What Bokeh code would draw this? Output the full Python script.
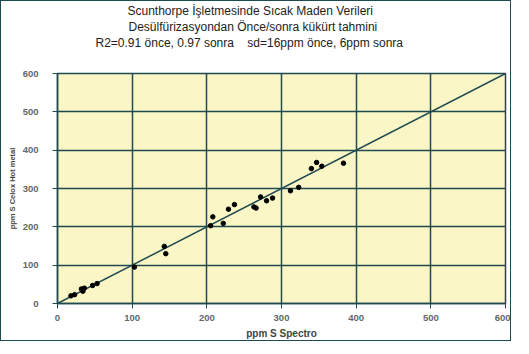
from bokeh.plotting import figure
from bokeh.models import Range1d, Title, FixedTicker
from bokeh.embed import file_html
from bokeh.resources import INLINE

# Data
spectro = [18, 23, 32, 34, 36, 47, 53, 103, 143, 145, 205, 208, 222, 229, 237,
           263, 266, 272, 280, 288, 312, 323, 340, 347, 354, 383]
celox = [20, 23, 38, 32, 40, 47, 52, 95, 149, 130, 203, 226, 209, 246, 258,
         252, 249, 278, 268, 275, 294, 303, 352, 368, 358, 366]
line_x = [0, 600]
line_y = [0, 600]
ticks = [0, 100, 200, 300, 400, 500, 600]

NB = "\u00a0"
title_lines = [
    "Scunthorpe İşletmesinde Sıcak Maden Verileri",
    "Desülfürizasyondan Önce/sonra kükürt tahmini",
    "R2=0.91 önce, 0.97 sonra" + NB * 4 + "sd=16ppm önce, 6ppm sonra",
]

DARK = "#1f4a50"

p = figure(width=511, height=341, output_backend="svg", toolbar_location=None,
           x_range=Range1d(0, 600), y_range=Range1d(0, 600),
           min_border_left=56, min_border_right=7, min_border_top=72,
           min_border_bottom=39,
           background_fill_color="#fbf6c6", border_fill_color="white",
           styles={"border": f"1px solid {DARK}"})

p.outline_line_color = DARK
p.outline_line_width = 1.5

for ax in (p.xaxis, p.yaxis):
    ax.ticker = FixedTicker(ticks=ticks)
    ax.minor_tick_line_color = None
    ax.major_tick_in = 0
    ax.major_tick_out = 5
    ax.major_tick_line_color = DARK
    ax.axis_line_color = DARK
    ax.axis_line_width = 1.5
    ax.major_label_text_font = "Liberation Sans"
    ax.major_label_text_font_size = "9.5px"
    ax.major_label_text_font_style = "bold"
    ax.major_label_text_color = "#666666"
    ax.axis_label_text_font = "Liberation Sans"
    ax.axis_label_text_font_style = "bold"
    ax.axis_label_text_color = "#444444"

p.xaxis.major_label_standoff = 6
p.yaxis.major_label_standoff = 14
p.xaxis.axis_label = "ppm S Spectro"
p.xaxis.axis_label_text_font_size = "10px"
p.xaxis.axis_label_standoff = 4
p.yaxis.axis_label = "ppm S Celox Hot metal"
p.yaxis.axis_label_text_font_size = "7.5px"
p.yaxis.axis_label_standoff = 3

for g in (p.xgrid, p.ygrid):
    g.ticker = FixedTicker(ticks=ticks)
    g.grid_line_color = DARK
    g.grid_line_width = 1.5

p.line(line_x, line_y, line_color=DARK, line_width=1.5)
p.scatter(spectro, celox, size=4.5, color="black")

# titles: added from the frame outward
offsets = [70, 71, 38]
p.add_layout(Title(text=" ", text_font_size="20px", standoff=0), "above")
for txt, off in reversed(list(zip(title_lines, offsets))):
    p.add_layout(Title(text=txt, align="left", offset=off, standoff=0,
                       text_font="Liberation Sans", text_font_size="12px",
                       text_font_style="normal", text_color="#222222"), "above")

open("out.html", "w").write(file_html(p, INLINE))
